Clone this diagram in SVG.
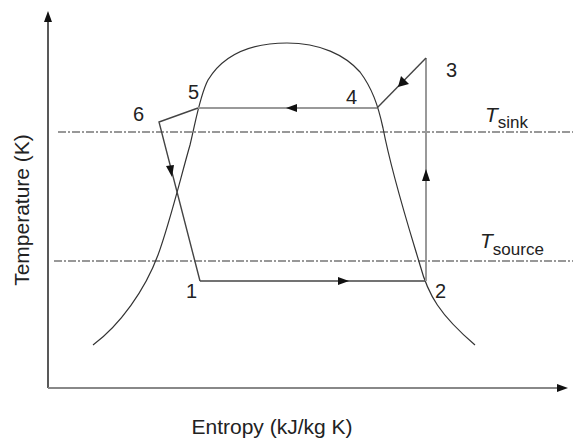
<svg xmlns="http://www.w3.org/2000/svg" width="573" height="441" viewBox="0 0 573 441">
<style>
.lbl{font-family:"Liberation Sans",Arial,sans-serif;font-size:20px;fill:#222}
.ax{font-family:"Liberation Sans",Arial,sans-serif;font-size:21px;fill:#222}
.dash{fill:none;stroke:#333;stroke-width:1.2;stroke-dasharray:8,2,2,2}
.dome{fill:none;stroke:#333;stroke-width:1.2}
.cyc{fill:none;stroke:#444;stroke-width:1.4}
.cycl{fill:none;stroke:#999;stroke-width:2}
.arr{fill:#111}
</style>
<rect width="573" height="441" fill="#fff"/>
<g id="axes">
<line x1="48" y1="18" x2="48" y2="388" stroke="#222" stroke-width="1.5"/>
<polygon points="48,11 44,22 52,22" fill="#111"/>
<line x1="48" y1="388" x2="560" y2="388" stroke="#888" stroke-width="2"/>
<polygon points="568,388 557,384 557,392" fill="#111"/>
<text class="ax" transform="translate(29,210) rotate(-90)" text-anchor="middle">Temperature (K)</text>
<text class="ax" x="272" y="434" text-anchor="middle">Entropy (kJ/kg K)</text>
</g>
<g id="reservoirs">
<line class="dash" x1="58" y1="132" x2="573" y2="132"/>
<line class="dash" x1="54" y1="261" x2="573" y2="261"/>
<text x="485" y="122" font-family="Liberation Sans,Arial,sans-serif" fill="#222"><tspan font-style="italic" font-size="21">T</tspan><tspan font-size="17" dy="6">sink</tspan></text>
<text x="480" y="248" font-family="Liberation Sans,Arial,sans-serif" fill="#222"><tspan font-style="italic" font-size="21">T</tspan><tspan font-size="17" dy="7">source</tspan></text>
</g>
<g id="dome">
<path class="dome" d="M93,345 C120,325 145,290 158,255 C170,222 180,180 190,145 C196,120 200,95 208,80 C225,52 255,43 287,43 C320,43 345,55 360,72 C372,88 378,105 383,128 C392,175 408,225 420,265 C428,295 440,315 475,345"/>
</g>
<g id="connectors">
<line class="cyc" x1="200" y1="281" x2="426" y2="281"/>
<line class="cycl" x1="426" y1="281" x2="426" y2="58"/>
<line class="cyc" x1="426" y1="58" x2="377" y2="108"/>
<line class="cycl" x1="377" y1="108" x2="198" y2="108"/>
<polyline class="cyc" points="198,108 159,122 200,281"/>
<polygon class="arr" points="349,281 338,277 338,285"/>
<polygon class="arr" points="426,169 422,181 430,181"/>
<polygon class="arr" points="398,87 401,76 409,84"/>
<polygon class="arr" points="286,108 297,104 297,112"/>
<polygon class="arr" points="172,177 166,166 174,165"/>
</g>
<g id="n1"><text class="lbl" x="186" y="298">1</text></g>
<g id="n2"><text class="lbl" x="435" y="298">2</text></g>
<g id="n3"><text class="lbl" x="446" y="77">3</text></g>
<g id="n4"><text class="lbl" x="346" y="104">4</text></g>
<g id="n5"><text class="lbl" x="188" y="99">5</text></g>
<g id="n6"><text class="lbl" x="133" y="121">6</text></g>
</svg>
